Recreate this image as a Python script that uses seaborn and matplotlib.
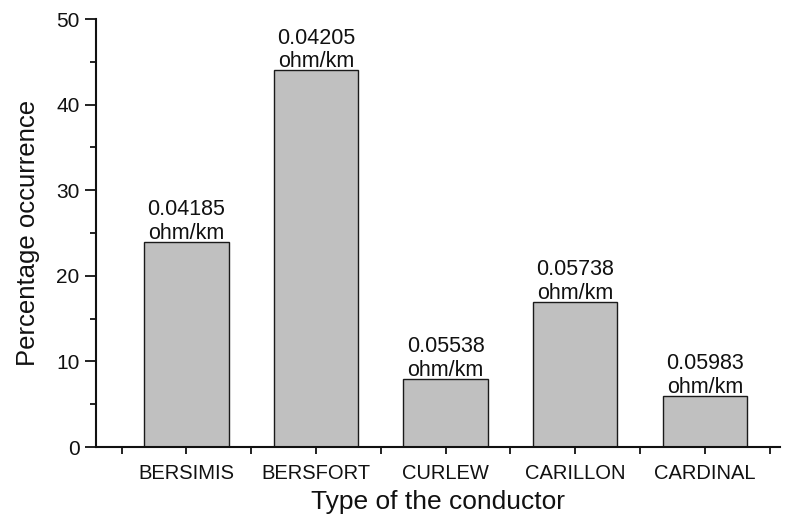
import matplotlib
matplotlib.use("Agg")
import matplotlib.pyplot as plt
import seaborn as sns
import pandas as pd
from matplotlib.ticker import MultipleLocator, FixedLocator

categories = ["BERSIMIS", "BERSFORT", "CURLEW", "CARILLON", "CARDINAL"]
values = [24, 44, 8, 17, 6]
labels = ["0.04185\nohm/km", "0.04205\nohm/km", "0.05538\nohm/km", "0.05738\nohm/km", "0.05983\nohm/km"]

sns.set_theme(style="ticks")
plt.rcParams['font.family'] = ['Liberation Sans', 'DejaVu Sans']

df = pd.DataFrame({"cat": categories, "val": values})
fig = plt.figure(figsize=(7.91, 5.15), dpi=100)
ax = fig.add_axes([0.121, 0.132, 0.865, 0.831])
sns.barplot(data=df, x="cat", y="val", color="#c0c0c0", saturation=1,
            edgecolor="#1a1a1a", linewidth=1.0, width=0.65, ax=ax)

for i, (v, t) in enumerate(zip(values, labels)):
    ax.annotate(t, (i, v), xytext=(0, -1.5), textcoords="offset points",
                ha="center", va="bottom", fontsize=15.5, linespacing=1.15, color="#111111")

ax.set_xlim(-0.7, 4.58)
ax.set_ylim(0, 50)
ax.yaxis.set_major_locator(MultipleLocator(10))
ax.yaxis.set_minor_locator(MultipleLocator(5))
ax.xaxis.set_minor_locator(FixedLocator([-0.5, 0.5, 1.5, 2.5, 3.5, 4.5]))
for s in ["top", "right"]:
    ax.spines[s].set_visible(False)
for s in ["left", "bottom"]:
    ax.spines[s].set_linewidth(1.5)
    ax.spines[s].set_color("#111111")
ax.tick_params(axis="y", which="major", length=8, width=1.3, labelsize=15, direction="out", colors="#111111")
ax.tick_params(axis="y", which="minor", length=4, width=1.3, direction="out", colors="#111111")
ax.tick_params(axis="x", which="major", length=5, width=1.3, labelsize=14.5, direction="out", colors="#111111", pad=7)
ax.tick_params(axis="x", which="minor", length=5, width=1.3, direction="out", colors="#111111")
ax.set_xlabel("Type of the conductor", fontsize=19, color="#111111")
ax.xaxis.set_label_coords(0.5, -0.1)
ax.set_ylabel("Percentage occurrence", fontsize=18.5, labelpad=12, color="#111111")
fig.savefig("out.png", dpi=100)
